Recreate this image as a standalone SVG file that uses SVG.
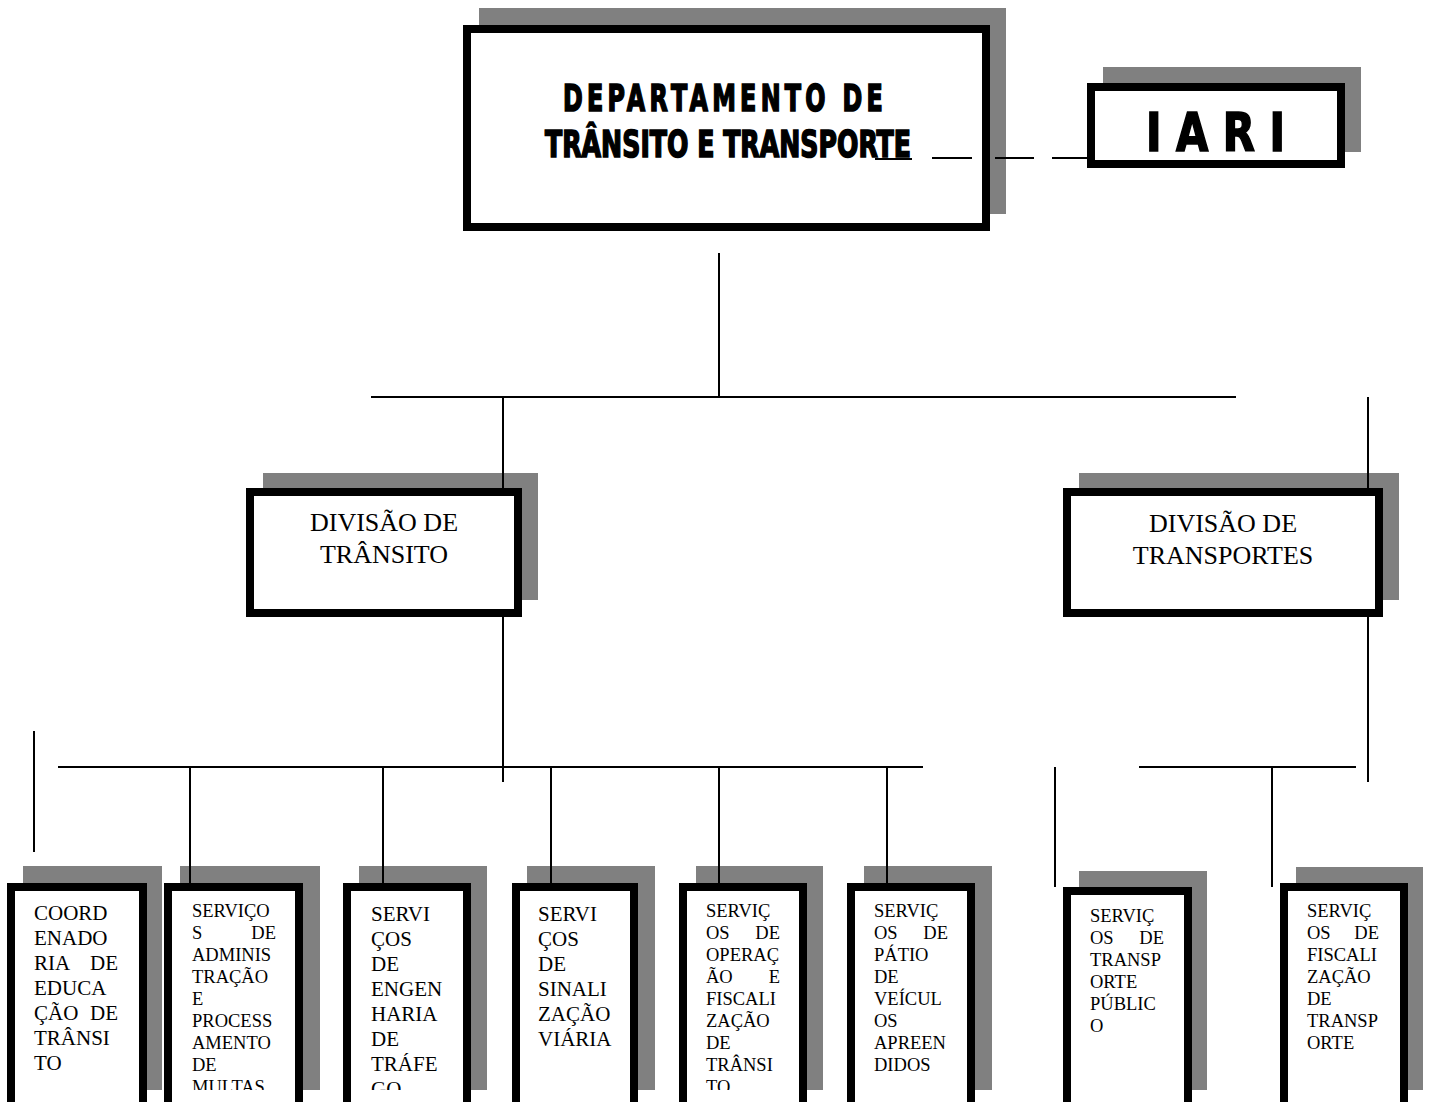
<svg xmlns="http://www.w3.org/2000/svg" width="1429" height="1102" viewBox="0 0 1429 1102">
<style>
.sh{fill:#808080}
.bx{fill:#fff;stroke:#000;stroke-width:8}
.ln{stroke:#000;stroke-width:2;fill:none}
.tt{font-family:"DejaVu Sans Condensed","Liberation Sans Narrow","Liberation Sans",sans-serif;font-weight:bold;fill:#000;stroke:#000;stroke-width:1.6}
.dv{font-family:"Liberation Serif","Times New Roman",serif;font-size:26px;fill:#000;text-anchor:middle}
.s1{font-family:"Liberation Serif","Times New Roman",serif;font-size:21px;fill:#000}
.s2{font-family:"Liberation Serif","Times New Roman",serif;font-size:18.5px;fill:#000}
.e{text-anchor:end}
</style>
<defs>
<clipPath id="clipb"><rect x="0" y="0" width="1429" height="1090"/></clipPath>
</defs>

<g id="departamento">
<rect class="sh" x="479" y="8" width="527" height="206"/>
<rect class="bx" x="467" y="29" width="519" height="198"/>
<text class="tt" x="563" y="111" font-size="37" letter-spacing="6" textLength="324" lengthAdjust="spacingAndGlyphs">DEPARTAMENTO DE</text>
<text class="tt" x="545" y="157" font-size="37" textLength="366" lengthAdjust="spacingAndGlyphs">TRÂNSITO E TRANSPORTE</text>
<line class="ln" x1="875" y1="159" x2="912" y2="159"/>
</g>

<g id="iari">
<rect class="sh" x="1103" y="67" width="258" height="85"/>
<rect class="bx" x="1091" y="87" width="250" height="77"/>
<text class="tt" x="1146" y="151" font-size="53" textLength="139" lengthAdjust="spacingAndGlyphs">I A R I</text>
</g>

<g id="div-transito">
<rect class="sh" x="263" y="473" width="275" height="127"/>
<rect class="bx" x="250" y="492" width="268" height="121"/>
<text class="dv" x="384" y="531">DIVISÃO DE</text>
<text class="dv" x="384" y="563">TRÂNSITO</text>
</g>

<g id="div-transportes">
<rect class="sh" x="1079" y="473" width="320" height="127"/>
<rect class="bx" x="1067" y="492" width="312" height="121"/>
<text class="dv" x="1223" y="532">DIVISÃO DE</text>
<text class="dv" x="1223" y="564">TRANSPORTES</text>
</g>

<g id="connectors">
<line class="ln" x1="932" y1="158" x2="972" y2="158"/>
<line class="ln" x1="995" y1="158" x2="1034" y2="158"/>
<line class="ln" x1="1052" y1="158" x2="1088" y2="158"/>
<line class="ln" x1="719" y1="253" x2="719" y2="398"/>
<line class="ln" x1="371" y1="397" x2="1236" y2="397" stroke-width="2.5"/>
<line class="ln" x1="503" y1="397" x2="503" y2="488"/>
<line class="ln" x1="503" y1="617" x2="503" y2="782"/>
<line class="ln" x1="1368" y1="397" x2="1368" y2="488"/>
<line class="ln" x1="1368" y1="617" x2="1368" y2="782"/>
<line class="ln" x1="58" y1="767" x2="923" y2="767"/>
<line class="ln" x1="34" y1="731" x2="34" y2="852"/>
<line class="ln" x1="1139" y1="767" x2="1356" y2="767"/>
<line class="ln" x1="1055" y1="767" x2="1055" y2="887"/>
</g>

<g id="coordenadoria">
<rect class="sh" x="23" y="866" width="139" height="224"/>
<rect class="bx" x="11" y="887" width="132" height="230"/>
<g clip-path="url(#clipb)">
<text class="s1" x="34" y="920">COORD</text>
<text class="s1" x="34" y="945">ENADO</text>
<text class="s1" x="34" y="970">RIA</text><text class="s1 e" x="118" y="970">DE</text>
<text class="s1" x="34" y="995">EDUCA</text>
<text class="s1" x="34" y="1020">ÇÃO</text><text class="s1 e" x="118" y="1020">DE</text>
<text class="s1" x="34" y="1045">TRÂNSI</text>
<text class="s1" x="34" y="1070">TO</text>
</g>
</g>

<g id="servicos-administracao">
<rect class="sh" x="180" y="866" width="140" height="224"/>
<rect class="bx" x="168" y="887" width="131" height="230"/>
<g clip-path="url(#clipb)">
<text class="s2" x="192" y="917">SERVIÇO</text>
<text class="s2" x="192" y="939">S</text><text class="s2 e" x="276" y="939">DE</text>
<text class="s2" x="192" y="961">ADMINIS</text>
<text class="s2" x="192" y="983">TRAÇÃO</text>
<text class="s2" x="192" y="1005">E</text>
<text class="s2" x="192" y="1027">PROCESS</text>
<text class="s2" x="192" y="1049">AMENTO</text>
<text class="s2" x="192" y="1071">DE</text>
<text class="s2" x="192" y="1093">MULTAS</text>
</g>
</g>

<g id="servicos-engenharia">
<rect class="sh" x="359" y="866" width="128" height="224"/>
<rect class="bx" x="347" y="887" width="120" height="230"/>
<g clip-path="url(#clipb)">
<text class="s1" x="371" y="921">SERVI</text>
<text class="s1" x="371" y="946">ÇOS</text>
<text class="s1" x="371" y="971">DE</text>
<text class="s1" x="371" y="996">ENGEN</text>
<text class="s1" x="371" y="1021">HARIA</text>
<text class="s1" x="371" y="1046">DE</text>
<text class="s1" x="371" y="1071">TRÁFE</text>
<text class="s1" x="371" y="1096">GO</text>
</g>
</g>

<g id="servicos-sinalizacao">
<rect class="sh" x="527" y="866" width="128" height="224"/>
<rect class="bx" x="516" y="887" width="118" height="230"/>
<g clip-path="url(#clipb)">
<text class="s1" x="538" y="921">SERVI</text>
<text class="s1" x="538" y="946">ÇOS</text>
<text class="s1" x="538" y="971">DE</text>
<text class="s1" x="538" y="996">SINALI</text>
<text class="s1" x="538" y="1021">ZAÇÃO</text>
<text class="s1" x="538" y="1046">VIÁRIA</text>
</g>
</g>

<g id="servicos-operacao">
<rect class="sh" x="696" y="866" width="127" height="224"/>
<rect class="bx" x="683" y="887" width="120" height="230"/>
<g clip-path="url(#clipb)">
<text class="s2" x="706" y="917">SERVIÇ</text>
<text class="s2" x="706" y="939">OS</text><text class="s2 e" x="780" y="939">DE</text>
<text class="s2" x="706" y="961">OPERAÇ</text>
<text class="s2" x="706" y="983">ÃO</text><text class="s2 e" x="780" y="983">E</text>
<text class="s2" x="706" y="1005">FISCALI</text>
<text class="s2" x="706" y="1027">ZAÇÃO</text>
<text class="s2" x="706" y="1049">DE</text>
<text class="s2" x="706" y="1071">TRÂNSI</text>
<text class="s2" x="706" y="1093">TO</text>
</g>
</g>

<g id="servicos-patio">
<rect class="sh" x="864" y="866" width="128" height="224"/>
<rect class="bx" x="851" y="887" width="120" height="230"/>
<g clip-path="url(#clipb)">
<text class="s2" x="874" y="917">SERVIÇ</text>
<text class="s2" x="874" y="939">OS</text><text class="s2 e" x="948" y="939">DE</text>
<text class="s2" x="874" y="961">PÁTIO</text>
<text class="s2" x="874" y="983">DE</text>
<text class="s2" x="874" y="1005">VEÍCUL</text>
<text class="s2" x="874" y="1027">OS</text>
<text class="s2" x="874" y="1049">APREEN</text>
<text class="s2" x="874" y="1071">DIDOS</text>
</g>
</g>

<g id="servicos-transporte-publico">
<rect class="sh" x="1079" y="871" width="128" height="219"/>
<rect class="bx" x="1067" y="891" width="121" height="226"/>
<text class="s2" x="1090" y="922">SERVIÇ</text>
<text class="s2" x="1090" y="944">OS</text><text class="s2 e" x="1164" y="944">DE</text>
<text class="s2" x="1090" y="966">TRANSP</text>
<text class="s2" x="1090" y="988">ORTE</text>
<text class="s2" x="1090" y="1010">PÚBLIC</text>
<text class="s2" x="1090" y="1032">O</text>
</g>

<g id="servicos-fiscalizacao-transporte">
<rect class="sh" x="1296" y="867" width="127" height="223"/>
<rect class="bx" x="1284" y="887" width="120" height="230"/>
<text class="s2" x="1307" y="917">SERVIÇ</text>
<text class="s2" x="1307" y="939">OS</text><text class="s2 e" x="1379" y="939">DE</text>
<text class="s2" x="1307" y="961">FISCALI</text>
<text class="s2" x="1307" y="983">ZAÇÃO</text>
<text class="s2" x="1307" y="1005">DE</text>
<text class="s2" x="1307" y="1027">TRANSP</text>
<text class="s2" x="1307" y="1049">ORTE</text>
</g>

<g id="drops">
<line class="ln" x1="190" y1="767" x2="190" y2="883"/>
<line class="ln" x1="383" y1="767" x2="383" y2="883"/>
<line class="ln" x1="551" y1="767" x2="551" y2="883"/>
<line class="ln" x1="719" y1="767" x2="719" y2="883"/>
<line class="ln" x1="887" y1="767" x2="887" y2="883"/>
<line class="ln" x1="1272" y1="767" x2="1272" y2="887"/>
</g>
</svg>
